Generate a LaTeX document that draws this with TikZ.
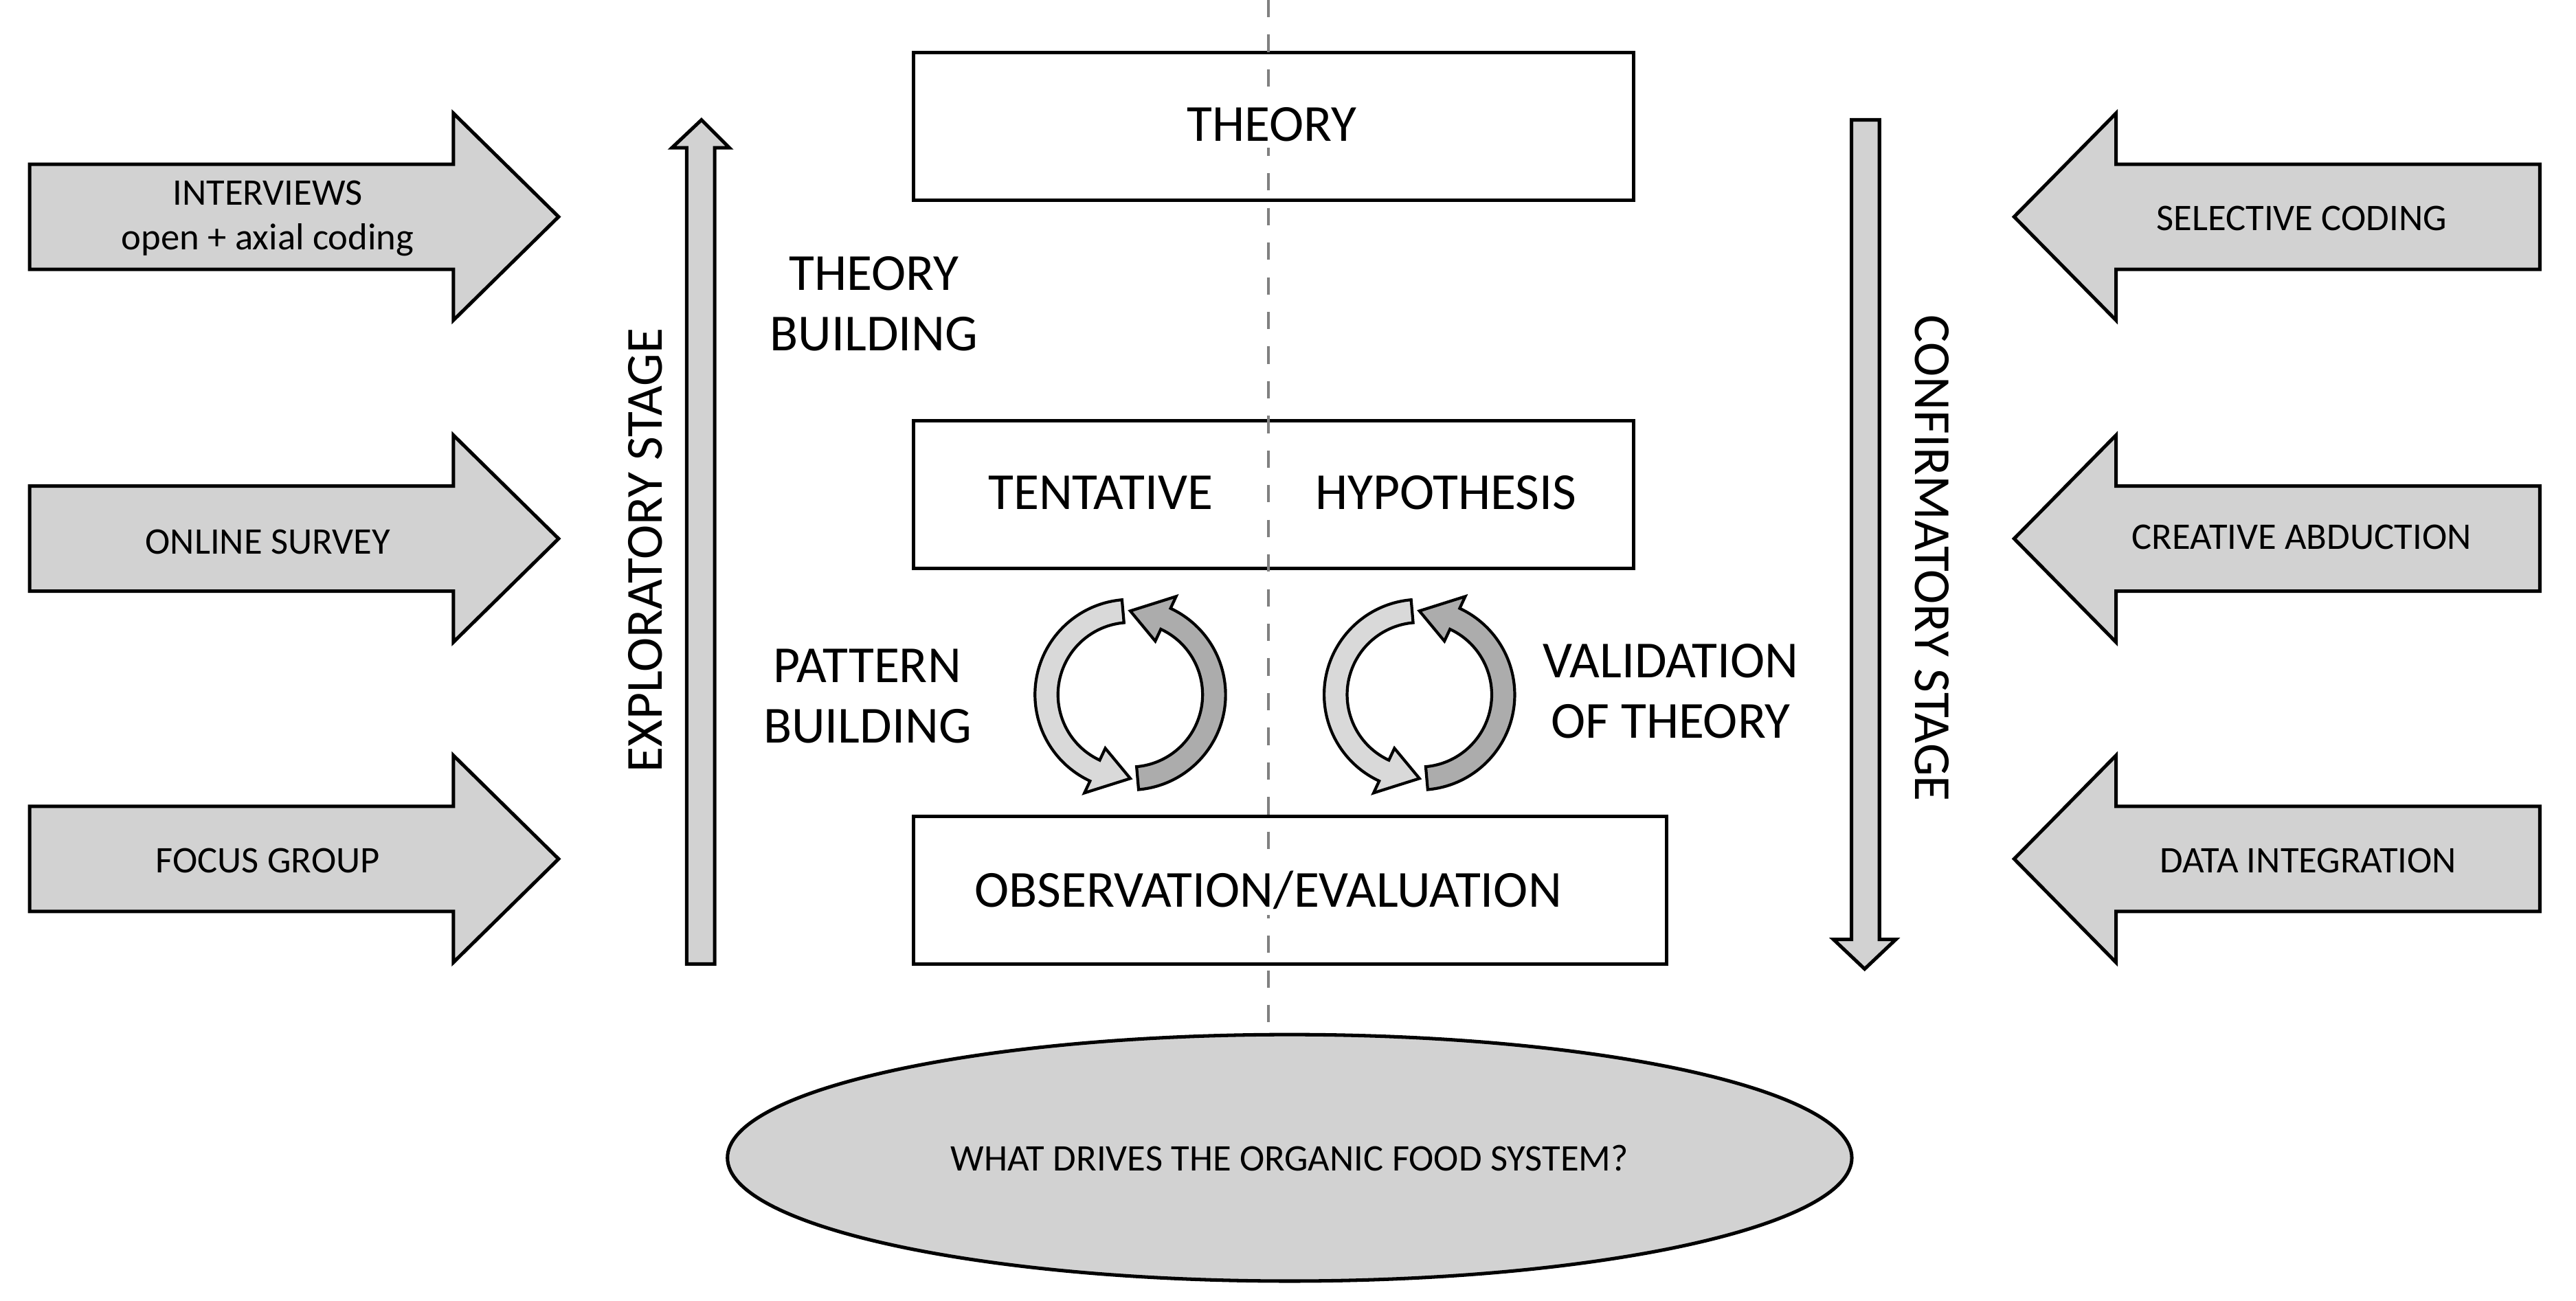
\documentclass[tikz,border=0pt]{standalone}
\usepackage{fontspec}
\setmainfont{Carlito}
\usetikzlibrary{calc,shapes.geometric}
\tikzset{
  box/.style={draw, line width=0.6pt, fill=white, inner sep=0pt},
  big/.style={font=\fontsize{9}{10.5}\selectfont, align=center},
  small/.style={font=\fontsize{6.5}{7.8}\selectfont, align=center},
  arr/.style={draw, line width=0.6pt, fill=gray!35},
  cycarr/.style={draw, line width=0.5pt, fill=#1},
}
% band arrow: centre x, y, start angle, end angle, tip offset, fill
\newcommand\cyc[6]{%
  \filldraw[cycarr=#6] ($(#1,#2)+(#3:58)$) arc[start angle=#3,end angle=#4,radius=58]
    -- ($(#1,#2)+(#4:66)$) -- ($(#1,#2)+(#4+#5:51)$) -- ($(#1,#2)+(#4:36)$)
    -- ($(#1,#2)+(#4:44)$) arc[start angle=#4,end angle=#3,radius=44] -- cycle;}
\begin{document}
\begin{tikzpicture}[x=0.01cm,y=-0.01cm]
  \useasboundingbox (0,0) rectangle (1568,792);
  \draw[gray, dashed, line width=0.5pt] (772,0) -- (772,630);

  % boxes
  \node[box, minimum width=4.38cm, minimum height=0.9cm, anchor=north west] (theory) at (555,31) {};
  \node[big] (theorytxt) at (774,76) {THEORY};
  \node[box, minimum width=4.38cm, minimum height=0.9cm, anchor=north west] (hyp) at (555,255) {};
  \node[big] (tent) at (670,300) {TENTATIVE};
  \node[big] (hypo) at (880,300) {HYPOTHESIS};
  \node[box, minimum width=4.58cm, minimum height=0.9cm, anchor=north west] (obs) at (555,496) {};
  \node[big] (obstxt) at (772,542) {OBSERVATION/EVALUATION};
  \draw[gray, dashed, line width=0.5pt] (772,0) -- (772,630);
  \node[ellipse, draw, line width=0.6pt, fill=gray!35, minimum width=6.84cm, minimum height=1.5cm, small] (q) at (785,705) {WHAT DRIVES THE ORGANIC FOOD SYSTEM?};
  \node[big, fill=white, inner sep=1pt] (theorytxt2) at (774,76) {THEORY};
  \node[big, fill=white, inner sep=1pt] (obstxt2) at (772,542) {OBSERVATION/EVALUATION};

  % side labels
  \node[big] (tb) at (532,185) {THEORY\\BUILDING};
  \node[big] (pb) at (528,424) {PATTERN\\BUILDING};
  \node[big] (vt) at (1017,421) {VALIDATION\\OF THEORY};

  % cycles
  \cyc{688}{423}{-95}{-245}{-25}{gray!30}
  \cyc{688}{423}{-275}{-425}{-25}{gray!65}
  \cyc{864}{423}{-95}{-245}{-25}{gray!30}
  \cyc{864}{423}{-275}{-425}{-25}{gray!65}

  % stage arrows
  \draw[arr] (418,587) -- (418,90) -- (409,90) -- (427,73) -- (444,90) -- (435,90) -- (435,587) -- cycle;
  \node[big, rotate=90] (expl) at (393,335) {EXPLORATORY STAGE};
  \draw[arr] (1127,73) -- (1127,572) -- (1116,572) -- (1135,590) -- (1154,572) -- (1144,572) -- (1144,73) -- cycle;
  \node[big, rotate=-90] (conf) at (1176,340) {CONFIRMATORY STAGE};

  % method arrows
  \foreach \yy in {132,328,523}{
    \draw[arr] (18,\yy-32) -- (276,\yy-32) -- (276,\yy-63) -- (340,\yy) -- (276,\yy+63) -- (276,\yy+32) -- (18,\yy+32) -- cycle;
    \draw[arr] (1546,\yy-32) -- (1288,\yy-32) -- (1288,\yy-63) -- (1226,\yy) -- (1288,\yy+63) -- (1288,\yy+32) -- (1546,\yy+32) -- cycle;
  }
  \node[small] (int) at (163,133) {INTERVIEWS\\open + axial coding};
  \node[small] (surv) at (163,330) {ONLINE SURVEY};
  \node[small] (focus) at (163,524) {FOCUS GROUP};
  \node[small] (sel) at (1401,133) {SELECTIVE CODING};
  \node[small] (abd) at (1401,327) {CREATIVE ABDUCTION};
  \node[small] (integ) at (1405,524) {DATA INTEGRATION};
\end{tikzpicture}
\end{document}
